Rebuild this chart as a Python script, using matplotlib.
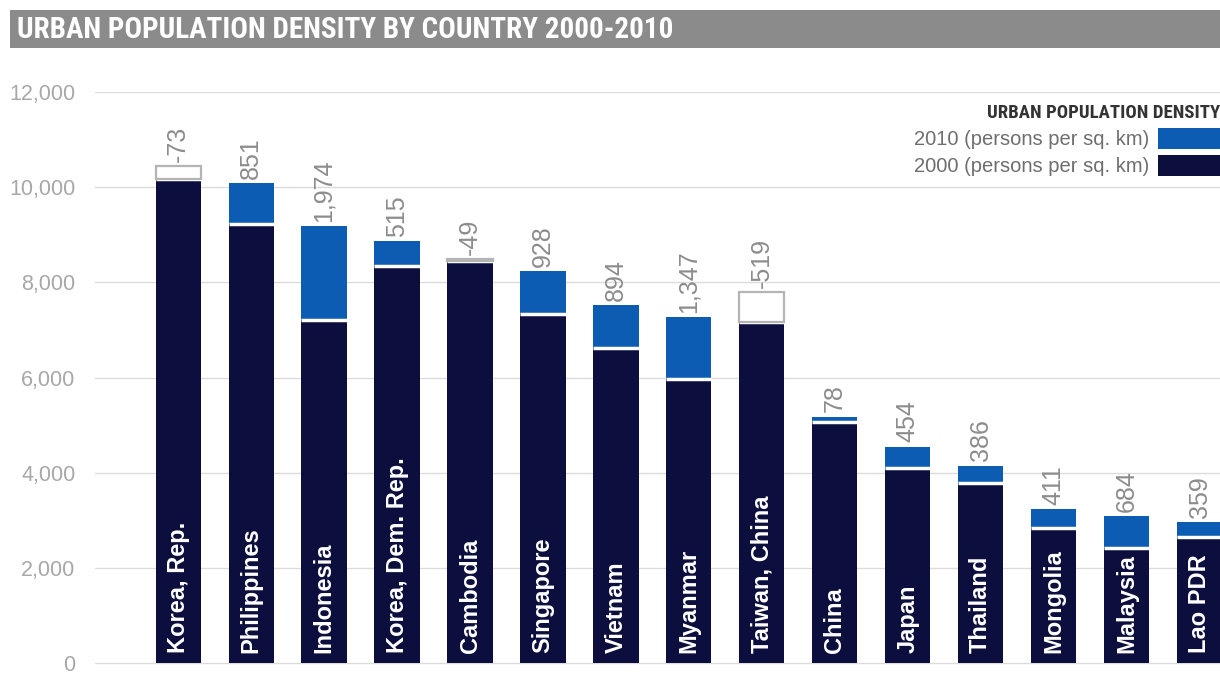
import matplotlib
matplotlib.use("Agg")
import matplotlib.pyplot as plt
from matplotlib.patches import Rectangle, Patch
from matplotlib import font_manager
import numpy as np

# values
countries = ["Korea, Rep.", "Philippines", "Indonesia", "Korea, Dem. Rep.", "Cambodia",
             "Singapore", "Vietnam", "Myanmar", "Taiwan, China", "China", "Japan",
             "Thailand", "Mongolia", "Malaysia", "Lao PDR"]
density_2000 = [10440, 9220, 7220, 8340, 8490, 7330, 6630, 5960, 7790,
                5070, 4110, 3790, 2840, 2420, 2650]
density_2010 = [10170, 10080, 9180, 8860, 8440, 8230, 7520, 7280, 7160,
                5180, 4550, 4150, 3240, 3090, 2970]
change_labels = ["-73", "851", "1,974", "515", "-49", "928", "894", "1,347", "-519",
                 "78", "454", "386", "411", "684", "359"]
y_ticks = [0, 2000, 4000, 6000, 8000, 10000, 12000]

NAVY = "#0c0e3e"
BLUE = "#0b5cb2"
GREY_TXT = "#8c8c8c"

plt.rcParams["font.family"] = ["Liberation Sans", "DejaVu Sans"]

# pick a condensed face for the headings if one is installed
names = {f.name for f in font_manager.fontManager.ttflist}
cond_family = "DejaVu Sans"
for cand in ["Liberation Sans Narrow", "Roboto Condensed", "Open Sans Condensed",
             "DejaVu Sans Condensed", "Noto Sans Condensed"]:
    if cand in names:
        cond_family = cand
        break
cond_font = {"family": cond_family, "weight": "bold", "stretch": "condensed"}

fig = plt.figure(figsize=(12.2, 6.77), dpi=100)
ax = fig.add_axes([95 / 1220, 1 - 667 / 677, 1125 / 1220, 575 / 677])

x = np.arange(len(countries))
d00 = np.array(density_2000, dtype=float)
d10 = np.array(density_2010, dtype=float)
lower = np.minimum(d00, d10)
upper = np.maximum(d00, d10)
inc = d10 > d00
dec = ~inc
w = 0.62

ax.bar(x, lower, width=w, color=NAVY, zorder=2)
ax.bar(x[inc], (d10 - d00)[inc], bottom=d00[inc], width=w, color=BLUE, zorder=2)
# white separator between the two periods
ax.hlines(lower, x - w / 2, x + w / 2, color="white", linewidth=2.5, zorder=3)
# decreases: empty outlined box
ax.bar(x[dec], (d00 - d10)[dec], bottom=d10[dec], width=w,
       facecolor="white", edgecolor="#b4b4b4", linewidth=1.6, zorder=4)

for xi, top, lab, name in zip(x, upper, change_labels, countries):
    ax.annotate(lab, (xi, top), xytext=(0, 3), textcoords="offset points",
                rotation=90, ha="center", va="bottom", color=GREY_TXT, fontsize=18)
    ax.annotate(name, (xi, 0), xytext=(0, 7), textcoords="offset points",
                rotation=90, ha="center", va="bottom", color="white",
                fontsize=17, fontweight="bold", zorder=5)

ax.set_xlim(-1.14, 14.28)
ax.set_ylim(-80, 12000)
ax.set_yticks(y_ticks)
ax.set_yticklabels([f"{t:,}" for t in y_ticks])
ax.set_xticks([])
ax.tick_params(axis="y", length=0, pad=14, labelsize=15.5, labelcolor="#a8a8a8")
ax.grid(axis="y", color="#dcdcdc", linewidth=1, zorder=0)
for s in ax.spines.values():
    s.set_visible(False)
ax.set_facecolor("none")

# title banner
fig.patches.append(Rectangle((10 / 1220, 1 - 48 / 677), 1210 / 1220, 38 / 677,
                             transform=fig.transFigure, facecolor="#8b8b8b",
                             edgecolor="none", zorder=0))
title_size = 21 if cond_family != "DejaVu Sans" else 15.5
fig.text(17 / 1220, 1 - 30 / 677, "URBAN POPULATION DENSITY BY COUNTRY 2000-2010",
         color="white", fontsize=title_size, va="center", ha="left", **cond_font)

handles = [Patch(facecolor=BLUE), Patch(facecolor=NAVY)]
leg = fig.legend(handles, ["2010 (persons per sq. km)", "2000 (persons per sq. km)"],
                 loc="upper right", bbox_to_anchor=(1.0, 1 - 104 / 677),
                 markerfirst=False, frameon=False, fontsize=14.5,
                 handlelength=3.1, handleheight=1.2, handletextpad=0.4,
                 borderpad=0, borderaxespad=0, labelspacing=0.3,
                 title="URBAN POPULATION DENSITY", alignment="right",
                 title_fontproperties={**cond_font,
                                       "size": 13.5 if cond_family != "DejaVu Sans" else 10.5})
for t in leg.get_texts():
    t.set_color("#6e6e6e")
leg.get_title().set_color("#333333")

fig.savefig("out.png", dpi=100)
